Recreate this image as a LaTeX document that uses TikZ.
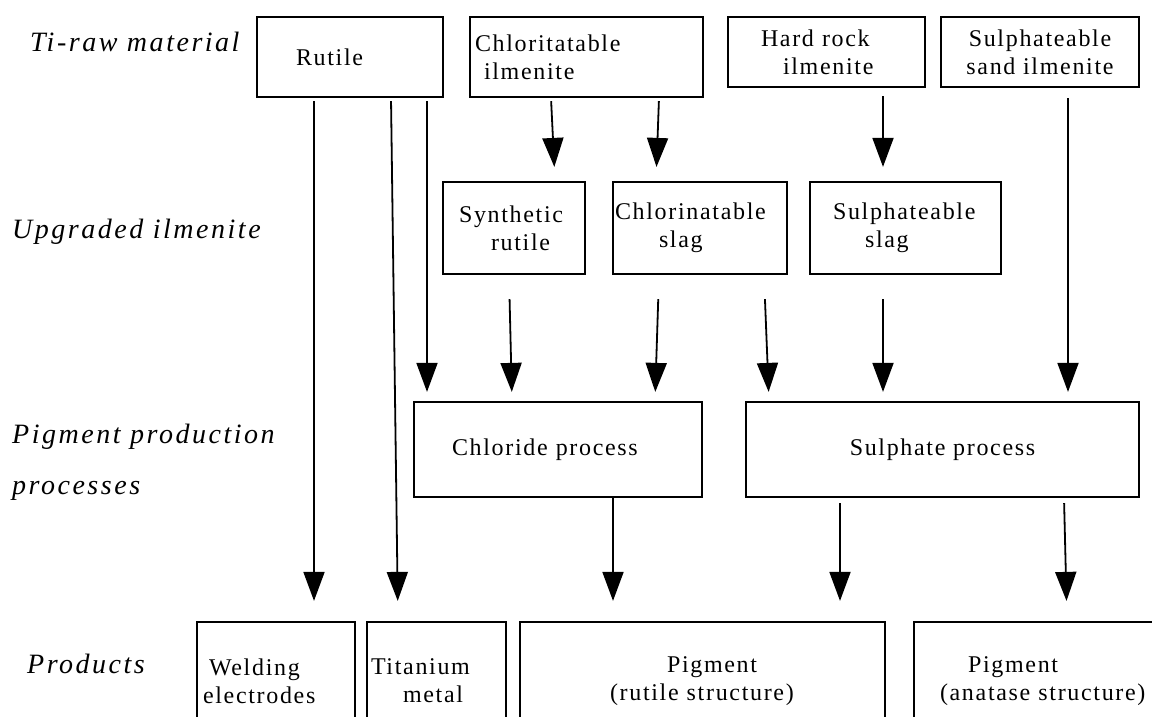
\documentclass[tikz,border=0pt]{standalone}
\usepackage{fontspec}
\setmainfont{Liberation Serif}[LetterSpace=7]
\newfontfamily\sidefont{Liberation Serif}[LetterSpace=9]
\usetikzlibrary{arrows.meta}

\begin{document}
\begin{tikzpicture}[x=1pt, y=-1pt,
  box/.style={draw, line width=2.2pt, align=center, inner sep=0pt, font=\fontsize{24}{28}\selectfont},
  side/.style={anchor=base west, inner sep=0pt, font=\fontsize{28}{34}\sidefont\itshape},
  arr/.style={-{Triangle[length=29pt,width=21pt]}, line width=1.8pt}
]
  \clip (0,0) rectangle (1152,717);

  % Row labels
  \node[side] (tiraw)    at (30,52)  {Ti-raw material};
  \node[side] (upgraded) at (12,238) {Upgraded ilmenite};
  \node[side] (pigprod)  at (12,443) {Pigment production};
  \node[side] (pigproc)  at (12,494) {processes};
  \node[side] (products) at (27,673) {Products};

  % Raw materials
  \node[box, minimum width=186pt, minimum height=80pt, text width=108pt, align=left] (rutile) at (350,57) {Rutile};
  \node[box, minimum width=233pt, minimum height=80pt, text width=223pt, align=left] (chlorit) at (586.5,57) {Chloritatable\\\hspace*{9pt}ilmenite};
  \node[box, minimum width=197pt, minimum height=70pt, text width=131pt, align=left] (hardrock) at (826.5,52) {Hard rock\\\hspace*{22pt}ilmenite};
  \node[box, minimum width=198pt, minimum height=70pt] (sulsand) at (1040,52) {Sulphateable\\sand ilmenite};

  % Upgraded ilmenite
  \node[box, minimum width=142pt, minimum height=92pt, text width=110pt, align=left] (synth) at (514,228) {Synthetic\\\hspace*{32pt}rutile};
  \node[box, minimum width=174pt, minimum height=92pt, text width=170pt, align=left] (chlorslag) at (700,228) {Chlorinatable\\\hspace*{44pt}slag};
  \node[box, minimum width=191pt, minimum height=92pt, text width=145pt, align=left] (sulslag) at (905.5,228) {Sulphateable\\\hspace*{32pt}slag};

  % Processes
  \node[box, minimum width=288pt, minimum height=95pt, text width=212pt, align=left] (chloride) at (558,449.5) {Chloride process};
  \node[box, minimum width=393pt, minimum height=95pt] (sulphate) at (942.5,449.5) {Sulphate process};

  % Products
  \node[box, minimum width=158pt, minimum height=118pt, text width=146pt, align=left] (welding) at (276,681) {\hspace*{6pt}Welding\\electrodes};
  \node[box, minimum width=139pt, minimum height=118pt, text width=131pt, align=left] (titanium) at (436.5,681) {Titanium\\\hspace*{32pt}metal};
  \node[box, minimum width=365pt, minimum height=118pt, text width=185pt, align=left] (pigrutile) at (702.5,681) {\hspace*{57pt}Pigment\\(rutile structure)};
  \node[box, minimum width=251pt, minimum height=118pt, text width=199pt, align=left] (piganatase) at (1039.5,681) {\hspace*{28pt}Pigment\\\mbox{(anatase structure)}};

  % Flows
  \foreach \a/\xa/\b/\xb/\sa/\sb in {
      rutile/-36/welding/38/3/20, rutile/41/titanium/-38.5/3/20, rutile/77/chloride/-131/3/9,
      chlorit/-35.5/synth/41/3/14, chlorit/72.5/chlorslag/-44/3/14, hardrock/56.5/sulslag/-22.5/8/14,
      sulsand/28/sulphate/125.5/10/9,
      synth/-5/chloride/-46/24/9, chlorslag/-41/chloride/97/24/9, chlorslag/64/sulphate/-173.5/24/9,
      sulslag/-22.5/sulphate/-59.5/24/9,
      chloride/55/pigrutile/-89.5/0/20, sulphate/-102.5/pigrutile/137.5/5/20, sulphate/121.5/piganatase/27.5/5/20}
    \draw[arr, shorten <=\sa pt, shorten >=\sb pt] ([xshift=\xa pt]\a.south) -- ([xshift=\xb pt]\b.north);
\end{tikzpicture}
\end{document}
